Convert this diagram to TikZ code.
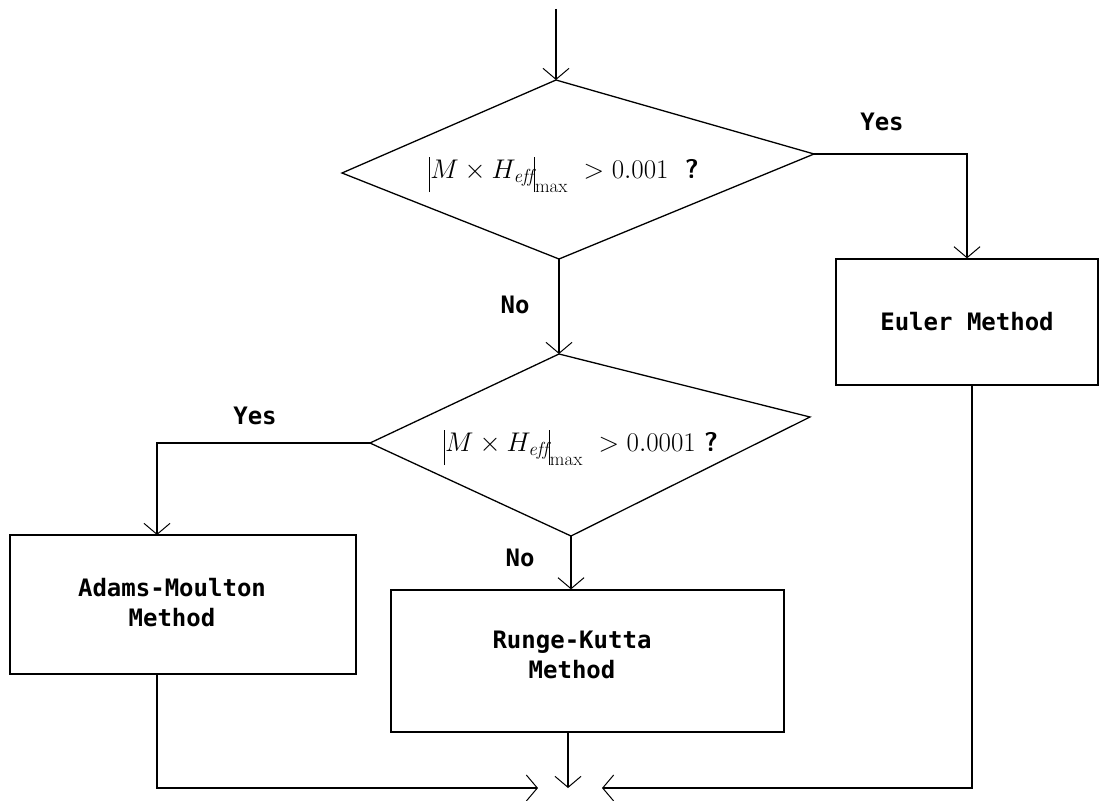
\documentclass[tikz,border=0pt]{standalone}
\usepackage{fix-cm}
\usepackage{fontspec}
\usetikzlibrary{arrows.meta}
\newfontfamily\pixfont{DejaVu Sans Mono}
\newcommand{\tallbar}{\rule[-14pt]{1.2pt}{35pt}}
\begin{document}
\begin{tikzpicture}[x=1pt,y=-1pt,line width=1.3pt,
  lbl/.style={font=\pixfont\bfseries\fontsize{24}{30}\selectfont,inner sep=0pt,align=center},
  formula/.style={font=\fontsize{27}{32}\selectfont,inner sep=0pt,anchor=base},
  box/.style={draw,inner sep=0pt},
  arr/.style={-{Straight Barb[length=11pt,width=26pt,line width=1pt]}}]
\useasboundingbox (0,0) rectangle (1099,800);
% decision 1
\coordinate (d1t) at (556,80);
\coordinate (d1l) at (342,173);
\coordinate (d1r) at (814,154);
\coordinate (d1b) at (559,259);
\draw (d1t) -- (d1r) -- (d1b) -- (d1l) -- cycle;
\node[formula] (f1) at (564,178) {$\mathopen{\tallbar}M\times H_{\mathit{eff}}\mathclose{\tallbar}_{\mathrm{max}}\ > 0.001$\ \ {\sffamily\bfseries ?}};
% decision 2
\coordinate (d2t) at (559,354);
\coordinate (d2l) at (370,443);
\coordinate (d2r) at (810,417);
\coordinate (d2b) at (571,536);
\draw (d2t) -- (d2r) -- (d2b) -- (d2l) -- cycle;
\node[formula] (f2) at (581,451) {$\mathopen{\tallbar}M\times H_{\mathit{eff}}\mathclose{\tallbar}_{\mathrm{max}}\ > 0.0001$\ {\sffamily\bfseries ?}};
% boxes
\node[box,minimum width=262pt,minimum height=126pt] (euler) at (967,322) {};
\node[lbl] (eulert) at (967,322) {Euler Method};
\node[box,minimum width=346pt,minimum height=139pt] (adams) at (183,604.5) {};
\node[lbl] (adamst) at (172,603) {Adams-Moulton\\Method};
\node[box,minimum width=393pt,minimum height=142pt] (rk) at (587.5,661) {};
\node[lbl] (rkt) at (572,655) {Runge-Kutta\\Method};
% labels
\node[lbl] (yes1) at (882,122) {Yes};
\node[lbl] (no1) at (515,305) {No};
\node[lbl] (yes2) at (255,416) {Yes};
\node[lbl] (no2) at (520,558) {No};
% connectors
\coordinate (start) at (556,9);
\coordinate (ain) at (157,535);
\coordinate (aout) at (157,674);
\coordinate (eout) at (972,385);
\coordinate (rout) at (568,732);
\coordinate (ml) at (538,788);
\coordinate (mc) at (568,788);
\coordinate (mr) at (602,788);
\draw[arr] (start) -- (d1t);
\draw[arr] (d1r) -- (euler.north |- d1r) -- (euler.north);
\draw[arr] (d1b) -- (d2t);
\draw[arr] (d2l) -- (ain |- d2l) -- (ain);
\draw[arr] (d2b) -- (d2b |- rk.north);
\draw[arr] (aout) -- (aout |- ml) -- (ml);
\draw[arr] (rout) -- (mc);
\draw[arr] (eout) -- (eout |- mr) -- (mr);
\end{tikzpicture}
\end{document}
